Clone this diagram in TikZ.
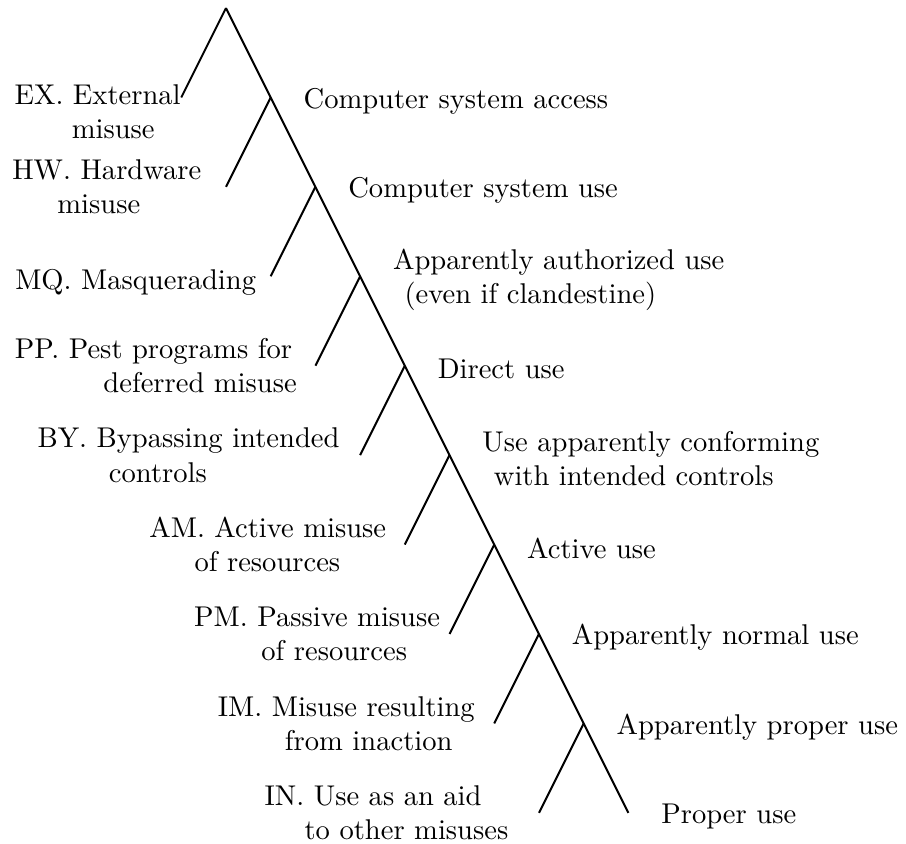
\documentclass[tikz,border=0pt]{standalone}
\usepackage{tikz}
\usetikzlibrary{positioning}
\tikzset{branch/.style={line width=0.7pt}}
\tikzset{uselabel/.style={rectangle,draw=none,fill=none,
inner sep=3.33pt,align=left,yshift=-1.2pt}}
\tikzset{misuselabel/.style={rectangle,draw=none,fill=none,
inner sep=3.33pt,align=left}}

\begin{document}
\begin{tikzpicture}

        \useasboundingbox (-79.1pt,2.8pt) rectangle (238pt,-292.6pt);

        \coordinate (root) at (0, 0);
        \coordinate[below right=1.1cm and 0.55cm of root] (access);
        \coordinate[below right=1.1cm and 0.55cm of access] (sysuse);
        \coordinate[below right=1.1cm and 0.55cm of sysuse] (authuse);
        \coordinate[below right=1.1cm and 0.55cm of authuse] (directuse);
        \coordinate[below right=1.1cm and 0.55cm of directuse] (conformuse);
        \coordinate[below right=1.1cm and 0.55cm of conformuse] (activeuse);
        \coordinate[below right=1.1cm and 0.55cm of activeuse] (normaluse);
        \coordinate[below right=1.1cm and 0.55cm of normaluse] (apparproper);
        \coordinate[below right=1.1cm and 0.55cm of apparproper] (proper);

        \coordinate[below left=1.1cm and 0.55cm of root] (exEnd);
        \coordinate[below left=1.1cm and 0.55cm of access] (hwEnd);
        \coordinate[below left=1.1cm and 0.55cm of sysuse] (mqEnd);
        \coordinate[below left=1.1cm and 0.55cm of authuse] (ppEnd);
        \coordinate[below left=1.1cm and 0.55cm of directuse] (byEnd);
        \coordinate[below left=1.1cm and 0.55cm of conformuse] (amEnd);
        \coordinate[below left=1.1cm and 0.55cm of activeuse] (pmEnd);
        \coordinate[below left=1.1cm and 0.55cm of normaluse] (imEnd);
        \coordinate[below left=1.1cm and 0.55cm of apparproper] (inEnd);

        \draw[branch] (root) -- (proper);
        \draw[branch] (root) -- (exEnd);
        \draw[branch] (access) -- (hwEnd);
        \draw[branch] (sysuse) -- (mqEnd);
        \draw[branch] (authuse) -- (ppEnd);
        \draw[branch] (directuse) -- (byEnd);
        \draw[branch] (conformuse) -- (amEnd);
        \draw[branch] (activeuse) -- (pmEnd);
        \draw[branch] (normaluse) -- (imEnd);
        \draw[branch] (apparproper) -- (inEnd);

        \node[uselabel, right=8pt of access] (accessText) {Computer system access};
        \node[uselabel, right=8pt of sysuse] (sysuseText) {Computer system use};
        \node[uselabel, right=8pt of authuse] (authuseText) {Apparently authorized use\\\hspace*{4pt}(even if clandestine)};
        \node[uselabel, right=8pt of directuse] (directuseText) {Direct use};
        \node[uselabel, right=8pt of conformuse] (conformuseText) {Use apparently conforming\\\hspace*{4pt}with intended controls};
        \node[uselabel, right=8pt of activeuse] (activeuseText) {Active use};
        \node[uselabel, right=8pt of normaluse] (normaluseText) {Apparently normal use};
        \node[uselabel, right=8pt of apparproper] (apparproperText) {Apparently proper use};
        \node[uselabel, right=8pt of proper] (properText) {Proper use};

        \node[misuselabel, left=-3.3pt of exEnd, yshift=-4.9pt] (exText) {EX. External\\\hspace*{20pt}misuse};
        \node[misuselabel, left=5.1pt of hwEnd] (hwText) {HW. Hardware\\\hspace*{15.8pt}misuse};
        \node[misuselabel, left=1.6pt of mqEnd, yshift=-2.1pt] (mqText) {MQ. Masquerading};
        \node[misuselabel, left=3pt of ppEnd] (ppText) {PP. Pest programs for\\\hspace*{31pt}deferred misuse};
        \node[misuselabel, left=3.7pt of byEnd] (byText) {BY. Bypassing intended\\\hspace*{25pt}controls};
        \node[misuselabel, left=3pt of amEnd] (amText) {AM. Active misuse\\\hspace*{15.8pt}of resources};
        \node[misuselabel, left=-0.2pt of pmEnd] (pmText) {PM. Passive misuse\\\hspace*{23.5pt}of resources};
        \node[misuselabel, left=3.3pt of imEnd] (imText) {IM. Misuse resulting\\\hspace*{23.5pt}from inaction};
        \node[misuselabel, left=7.2pt of inEnd] (inText) {IN. Use as an aid\\\hspace*{14pt}to other misuses};

\end{tikzpicture}
\end{document}
